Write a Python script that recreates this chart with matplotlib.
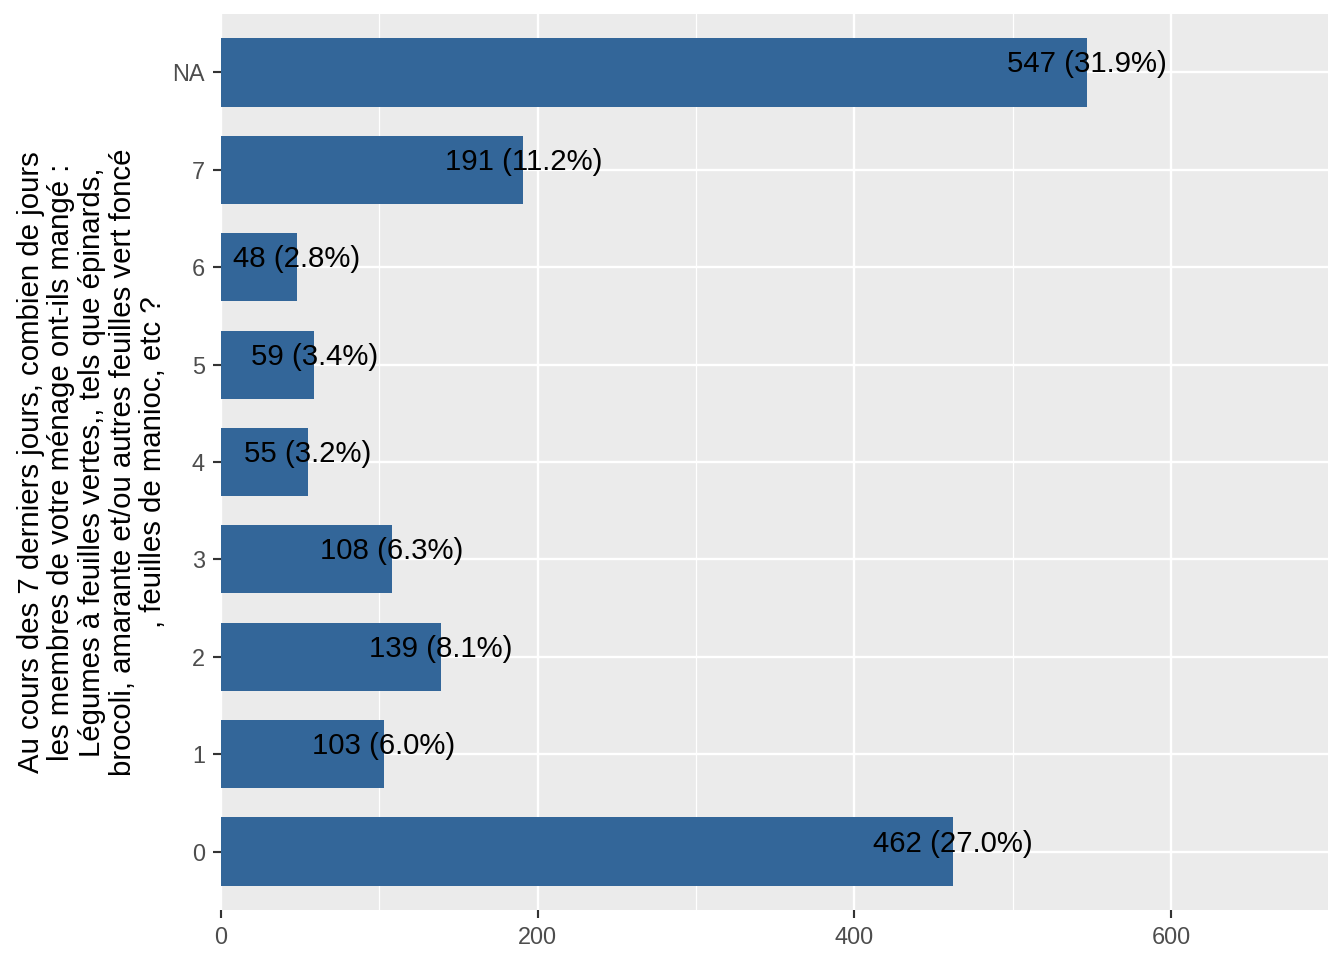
import matplotlib
matplotlib.use("Agg")
import matplotlib.pyplot as plt
from matplotlib.ticker import MultipleLocator

plt.rcParams["font.family"] = ["Liberation Sans", "DejaVu Sans"]

# ── Data ──
categories = ["0", "1", "2", "3", "4", "5", "6", "7", "NA"]
counts = [462, 103, 139, 108, 55, 59, 48, 191, 547]
percents = [27.0, 6.0, 8.1, 6.3, 3.2, 3.4, 2.8, 11.2, 31.9]

ylabel = ("Au cours des 7 derniers jours, combien de jours\n"
          "les membres de votre ménage ont-ils mangé :\n"
          "Légumes à feuilles vertes,, tels que épinards,\n"
          "brocoli, amarante et/ou autres feuilles vert foncé\n"
          ", feuilles de manioc, etc ?")

fig = plt.figure(figsize=(7, 5), dpi=192)
fig.patch.set_facecolor("white")
ax = fig.add_axes([221 / 1344, 1 - 910 / 960, 1107 / 1344, 896 / 960])
ax.set_facecolor("#EBEBEB")

pos = list(range(len(categories)))
ax.barh(pos, counts, height=0.7, color="#336699", zorder=3)

for y, c, p in zip(pos, counts, percents):
    ax.text(c, y, f"{c} ({p:.1f}%)", ha="center", va="baseline",
            fontsize=11, color="black", zorder=4)

ax.set_xlim(0, 699)
ax.set_ylim(-0.6, len(categories) - 0.4)
ax.set_yticks(pos)
ax.set_yticklabels(categories)
ax.xaxis.set_major_locator(MultipleLocator(200))
ax.xaxis.set_minor_locator(MultipleLocator(100))

ax.grid(which="major", axis="both", color="white", linewidth=0.9, zorder=0)
ax.grid(which="minor", axis="x", color="white", linewidth=0.45, zorder=0)
ax.set_axisbelow(True)

for s in ax.spines.values():
    s.set_visible(False)

ax.tick_params(axis="both", which="major", length=3, width=0.8,
               color="#333333", labelcolor="#4D4D4D", labelsize=8.8, pad=3)
ax.tick_params(axis="x", which="minor", length=0)

ax.set_ylabel(ylabel, fontsize=11, color="black", linespacing=1.12,
              labelpad=2, ha="center")

fig.savefig("out.png", dpi=192, facecolor="white")
plt.close(fig)
